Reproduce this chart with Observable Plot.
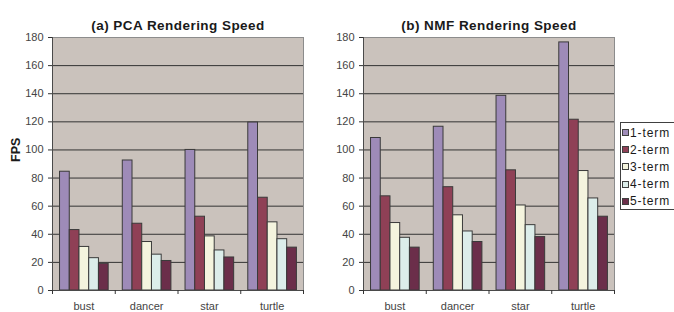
<!DOCTYPE html>
<html>
<head>
<meta charset="utf-8">
<script src="https://cdn.jsdelivr.net/npm/d3@7"></script>
<script src="https://cdn.jsdelivr.net/npm/@observablehq/plot@0.6"></script>
<style>
  html, body { margin: 0; padding: 0; background: #ffffff; overflow: hidden; }
  #wrap { position: relative; width: 674px; height: 312px; overflow: hidden;
          font-family: "Liberation Sans", Arial, sans-serif; }
  #wrap svg { position: absolute; top: 0; overflow: visible; }
  #legend { position: absolute; left: 620px; top: 122px; width: 80px; height: 88px;
            border: 1px solid #404040; background: #ffffff; box-sizing: border-box; padding-top: 1px; }
  .lg-row { display: flex; align-items: center; height: 17.2px; }
  .lg-sw { width: 5px; height: 5px; border: 1px solid #404040; margin-left: 1px; margin-right: 1px; }
  .lg-tx { font-size: 12px; color: #1a1a1a; letter-spacing: 0.9px; white-space: nowrap; }
</style>
</head>
<body>
<div id="wrap"></div>
<script>
// ---- data ----
const categories = ["bust", "dancer", "star", "turtle"];
const terms = ["1-term", "2-term", "3-term", "4-term", "5-term"];
const yTicks = [0, 20, 40, 60, 80, 100, 120, 140, 160, 180];

// PCA rendering speed (FPS), one array per series, ordered like categories
const pca1 = [84.5, 92.5, 100, 119.5];
const pca2 = [43, 47.5, 52.5, 66];
const pca3 = [31, 34.5, 38.5, 48.5];
const pca4 = [23, 25.5, 28.5, 36.5];
const pca5 = [19, 21, 23.5, 30.5];

// NMF rendering speed (FPS)
const nmf1 = [108.5, 116.5, 138.5, 176.5];
const nmf2 = [67, 73.5, 85.5, 121.5];
const nmf3 = [48, 53.5, 60.5, 85];
const nmf4 = [37.5, 42, 46.5, 65.5];
const nmf5 = [30.5, 34.5, 38, 52.5];

const titles = ["(a) PCA Rendering Speed", "(b) NMF Rendering Speed"];
const yLabel = "FPS";

// ---- styles ----
const colors = ["#9e8bb8", "#8f4056", "#f4f4de", "#dcedea", "#6b2e4a"];
const bg = "#cac2bc";
const FONT = "Liberation Sans, Arial, sans-serif";
const PAD = 0.12, W = 0.155; // bar layout within a category (fraction of category width)

function rowsFor(series) {
  const rows = [];
  categories.forEach((cat, ci) => terms.forEach((term, ti) => {
    rows.push({cat, ci, term, ti, value: series[ti][ci]});
  }));
  return rows;
}

function chart(title, series, opts) {
  const rows = rowsFor(series);
  const marks = [
    Plot.frame({fill: bg, stroke: null}),
    Plot.ruleY(yTicks.filter(v => v > 0 && v < 180), {stroke: "#333333", strokeWidth: 1}),
    Plot.frame({stroke: "#8c8c8c"}),
    Plot.rect(rows, {
      x1: d => d.ci + PAD + d.ti * W,
      x2: d => d.ci + PAD + (d.ti + 1) * W,
      y1: 0, y2: "value",
      fill: "term", stroke: "#3a3a3a", strokeWidth: 1
    }),
    Plot.ruleX([0], {stroke: "#4a4a4a"}),
    Plot.ruleY([0], {stroke: "#4a4a4a"}),
    Plot.axisY({ticks: yTicks, tickSize: 4, tickPadding: 5, fontSize: 11, stroke: "#333", fill: "#444", label: null}),
    Plot.axisX({ticks: d3.range(categories.length + 1), tickSize: 4, tickFormat: () => "", stroke: "#333", label: null}),
    Plot.axisX({ticks: categories.map((c, i) => i + 0.5), tickSize: 0, tickPadding: 11.5,
                tickFormat: v => categories[Math.floor(v)], fontSize: 11, fill: "#444", label: null}),
    Plot.text([title], {frameAnchor: "top", dy: -17, fontWeight: "bold", fontSize: 13.5, fill: "#1a1a1a"})
  ];
  if (opts.showLabel) {
    marks.push(Plot.text([yLabel], {frameAnchor: "left", rotate: -90, dx: -37, dy: -2,
                                    fontWeight: "bold", fontSize: 12.5, fill: "#1a1a1a"}));
  }
  const svg = Plot.plot({
    width: opts.width, height: 312,
    marginLeft: opts.marginLeft, marginRight: opts.marginRight,
    marginTop: 37, marginBottom: 22,
    style: {fontFamily: FONT, background: "transparent", overflow: "visible"},
    x: {type: "linear", domain: [0, categories.length], axis: null},
    y: {domain: [0, 180], axis: null},
    color: {domain: terms, range: colors},
    marks
  });
  d3.select(svg).selectAll("text").filter(function () { return this.textContent === title; })
    .style("letter-spacing", "0.45px");
  return svg;
}

const wrap = document.getElementById("wrap");
const left = chart(titles[0], [pca1, pca2, pca3, pca4, pca5], {width: 330, marginLeft: 52, marginRight: 27, showLabel: true});
left.style.left = "0px";
wrap.appendChild(left);
const right = chart(titles[1], [nmf1, nmf2, nmf3, nmf4, nmf5], {width: 290, marginLeft: 33, marginRight: 6, showLabel: false});
right.style.left = "330px";
wrap.appendChild(right);

// legend
const legend = document.createElement("div");
legend.id = "legend";
terms.forEach((t, i) => {
  const row = document.createElement("div");
  row.className = "lg-row";
  const sw = document.createElement("span");
  sw.className = "lg-sw";
  sw.style.background = colors[i];
  const tx = document.createElement("span");
  tx.className = "lg-tx";
  tx.textContent = t;
  row.appendChild(sw); row.appendChild(tx);
  legend.appendChild(row);
});
wrap.appendChild(legend);
</script>
</body>
</html>
